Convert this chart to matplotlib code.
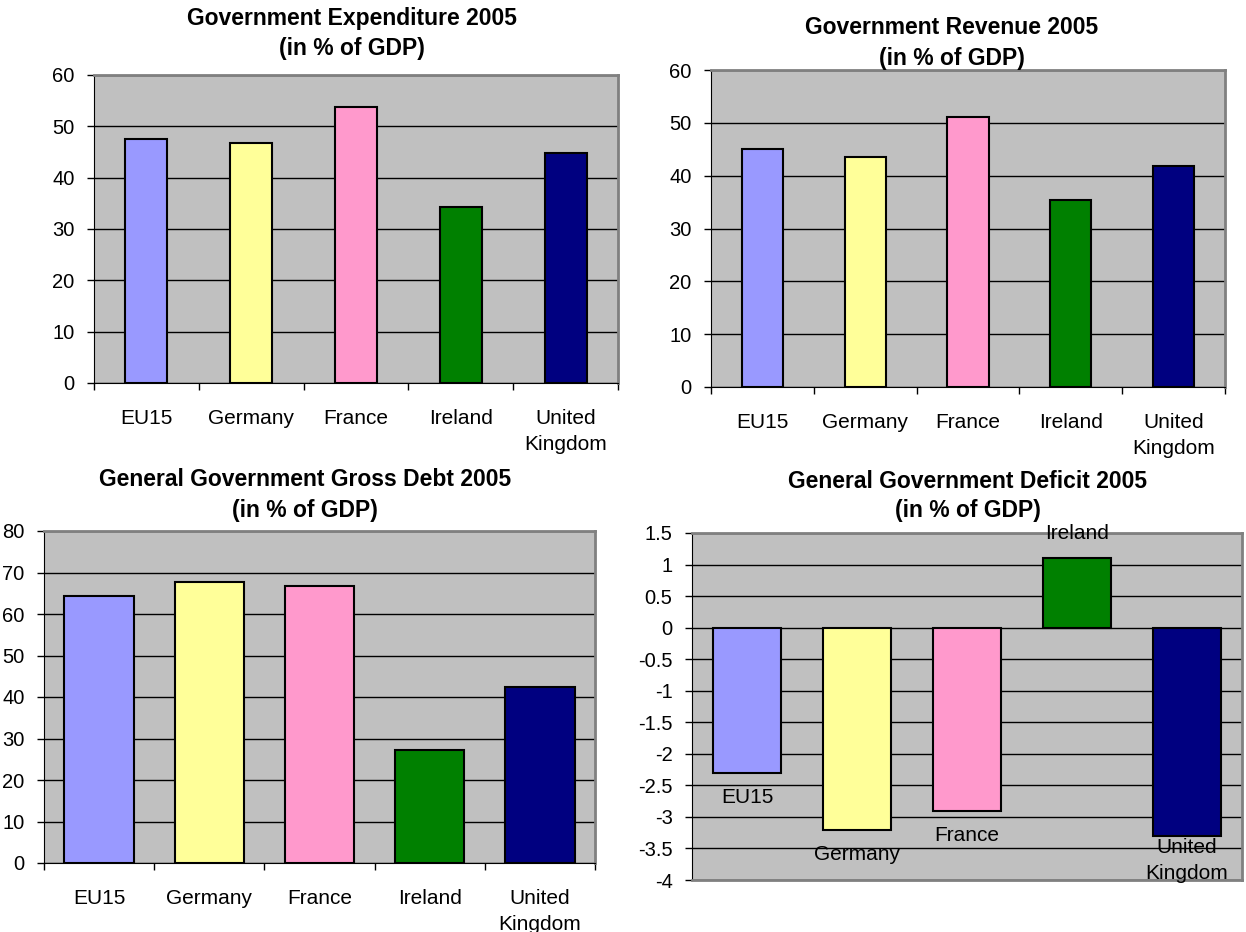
import matplotlib
matplotlib.use('Agg')
import matplotlib.pyplot as plt
import numpy as np

plt.rcParams['font.family'] = ['Liberation Sans', 'DejaVu Sans']
plt.rcParams['axes.unicode_minus'] = False

# 2005 public finance figures, % of GDP
countries = ['EU15', 'Germany', 'France', 'Ireland', 'United\nKingdom']
expenditure = [47.5, 46.7, 53.8, 34.3, 44.8]
revenue = [45.0, 43.6, 51.1, 35.3, 41.8]
gross_debt = [64.4, 67.7, 66.8, 27.3, 42.3]
deficit = [-2.3, -3.2, -2.9, 1.1, -3.3]

colors = ['#9999FF', '#FFFF99', '#FF99CC', '#008000', '#000080']

W, H = 1246, 932
fig = plt.figure(figsize=(W / 100, H / 100), dpi=100)


def add_ax(l, t, r, b):
    return fig.add_axes([l / W, 1 - b / H, (r - l) / W, (b - t) / H])


def style_ax(ax, ymin, ymax, step, fmt):
    ax.set_facecolor('#C0C0C0')
    ax.set_ylim(ymin, ymax)
    ticks = np.arange(ymin, ymax + step / 2, step)
    ax.set_yticks(ticks)
    ax.set_yticklabels([fmt(t) for t in ticks], fontsize=14.5)
    ax.yaxis.grid(True, color='black', linewidth=1)
    ax.set_axisbelow(True)
    for s in ['top', 'right']:
        ax.spines[s].set_color('#808080')
        ax.spines[s].set_linewidth(2)
    ax.spines['left'].set_color('black')
    ax.spines['bottom'].set_color('black')
    ax.tick_params(axis='y', length=5, width=1, pad=9, direction='out')
    ax.set_xlim(-0.5, 4.5)


def draw_bars(ax, values, width):
    x = np.arange(len(values))
    ax.bar(x, values, width=width, color=colors, edgecolor='black', linewidth=1.5, zorder=3)
    # category boundaries get tick marks, centres carry the names
    ax.set_xticks(np.arange(-0.5, 5, 1))
    ax.set_xticklabels([])
    ax.set_xticks(x, minor=True)
    ax.set_xticklabels(countries, minor=True, fontsize=15, linespacing=1.45)
    ax.tick_params(axis='x', which='major', length=5, width=1, direction='out')
    ax.tick_params(axis='x', which='minor', length=0, pad=19)


def title(xc, yc, line1):
    fig.text(xc / W, 1 - yc / H, line1, ha='center', va='center', fontsize=16.5, fontweight='bold')


int_fmt = lambda v: '%d' % v

# expenditure
ax1 = add_ax(94, 75, 618, 383)
style_ax(ax1, 0, 60, 10, int_fmt)
draw_bars(ax1, expenditure, 0.40)
title(352, 18, 'Government Expenditure 2005')
title(352, 48, '(in % of GDP)')

# revenue
ax2 = add_ax(711, 70, 1225, 387)
style_ax(ax2, 0, 60, 10, int_fmt)
draw_bars(ax2, revenue, 0.40)
title(952, 28, 'Government Revenue 2005')
title(952, 58, '(in % of GDP)')

# gross debt
ax3 = add_ax(44, 531, 595, 863)
style_ax(ax3, 0, 80, 10, int_fmt)
draw_bars(ax3, gross_debt, 0.63)
title(305, 480, 'General Government Gross Debt 2005')
title(305, 511, '(in % of GDP)')

# deficit, names written at the bar ends
ax4 = add_ax(692, 533, 1242, 880)
style_ax(ax4, -4, 1.5, 0.5, lambda v: ('%g' % v) if abs(v) > 1e-9 else '0')
ax4.spines['bottom'].set_color('#808080')
ax4.spines['bottom'].set_linewidth(2)
ax4.tick_params(axis='x', length=0, labelbottom=False)
x4 = np.arange(len(deficit))
ax4.bar(x4, deficit, width=0.62, color=colors, edgecolor='black', linewidth=1.5, zorder=3)
for xi, v, name in zip(x4, deficit, countries):
    off = 25 if v > 0 else -25
    ax4.annotate(name, (xi, v), xytext=(0, off), textcoords='offset pixels',
                 ha='center', va='center', fontsize=15, linespacing=1.45,
                 annotation_clip=False, zorder=4)
title(968, 481, 'General Government Deficit 2005')
title(968, 510, '(in % of GDP)')

fig.savefig('out.png', dpi=100, facecolor='white')
